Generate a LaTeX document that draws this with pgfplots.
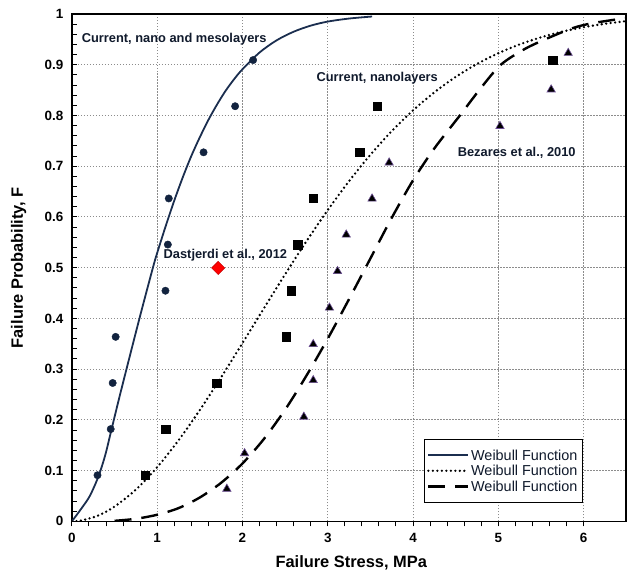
\documentclass[border=0pt]{standalone}
\usepackage{fontspec}
\setmainfont{Liberation Sans}
\usepackage{pgfplots}
\pgfplotsset{compat=1.18}
\definecolor{navy}{HTML}{1B2E4F}
\definecolor{navymark}{HTML}{12233F}
\definecolor{tripurple}{HTML}{6A4C93}
\definecolor{gridgray}{HTML}{8C8C8C}
\definecolor{annot}{HTML}{101A2C}
\begin{document}
\begin{tikzpicture}
\begin{axis}[
  width=555bp, height=508bp, scale only axis,
  xmin=0, xmax=6.5, ymin=0, ymax=1,
  xtick={0,1,2,3,4,5,6},
  ytick={0,0.1,0.2,0.3,0.4,0.5,0.6,0.7,0.8,0.9,1},
  xticklabel={\bfseries\pgfmathprintnumber[assume math mode=true]{\tick}},
  yticklabel={\bfseries\pgfmathprintnumber[assume math mode=true]{\tick}},
  minor x tick num=4, minor y tick num=4,
  xtick pos=bottom, ytick pos=left,
  tick align=inside,
  major tick length=5bp, minor tick length=5bp,
  xtick style={yshift=-5bp},
  tick style={black, line width=1bp},
  axis line style={line width=1.6bp, black},
  grid=major,
  grid style={gridgray, line width=1bp, dash pattern=on 1.4bp off 1.6bp},
  ticklabel style={font=\fontsize{13.5}{15}\selectfont\bfseries},
  yticklabel style={xshift=-5bp},
  xticklabel style={yshift=-8bp},
  xlabel={Failure Stress, MPa},
  ylabel={Failure Probability, F},
  label style={font=\fontsize{16.5}{18}\selectfont\bfseries},
  xlabel style={at={(axis description cs:0.504,-0.0906)}, anchor=base},
  ylabel style={at={(axis description cs:-0.0883,0.5)}, anchor=base},
  legend style={at={(0.921,0.037)}, anchor=south east, draw=black, line width=0.8bp,
    font=\fontsize{14.5}{16}\selectfont, text=annot, inner xsep=3bp, inner ysep=9bp,
    nodes={inner sep=1.5bp, text height=10.4bp, text depth=0bp}, row sep=2.3bp},
  legend cell align=left,
  legend image code/.code={\draw[#1] (0bp,0bp) -- (40bp,0bp);},
]
\addplot[navy, line width=1.8bp, smooth] coordinates {
(0,0) (0.11,0.025) (0.21,0.05) (0.31,0.088) (0.39,0.13) (0.46,0.178) (0.55,0.24)
(0.64,0.3) (0.8,0.405) (0.95,0.5) (1.0,0.529) (1.1,0.582) (1.2,0.632) (1.3,0.678)
(1.4,0.720) (1.5,0.757) (1.6,0.791) (1.7,0.821) (1.8,0.848) (1.9,0.871) (2.0,0.891)
(2.2,0.924) (2.4,0.948) (2.6,0.965) (2.8,0.977) (3.0,0.985) (3.25,0.991) (3.52,0.995)};
\addlegendentry{Weibull Function}
\addplot[black, line width=2.6bp, dash pattern=on 0bp off 4.5bp, line cap=round, smooth] coordinates {
(0,0) (0.1,0.0013) (0.3,0.0109) (0.5,0.029) (0.75,0.0625) (1.0,0.1067) (1.25,0.1596)
(1.5,0.2194) (1.75,0.284) (2.0,0.3512) (2.25,0.4195) (2.5,0.4868) (2.75,0.5519)
(3.0,0.6134) (3.25,0.6705) (3.5,0.7224) (3.75,0.769) (4.0,0.8099) (4.25,0.8455)
(4.5,0.8759) (4.75,0.9015) (5.0,0.9227) (5.25,0.94) (5.5,0.954) (5.75,0.9652)
(6.0,0.9739) (6.25,0.9807) (6.5,0.9859)};
\addlegendentry{Weibull Function}
\addplot[black, line width=2.4bp, dash pattern=on 17bp off 10bp, smooth] coordinates {
(0.5,0.001) (0.75,0.005) (1.0,0.013) (1.25,0.026) (1.5,0.047) (1.75,0.076) (2.0,0.114)
(2.25,0.162) (2.5,0.22) (2.75,0.287) (3.0,0.36) (3.25,0.438) (3.5,0.518) (3.75,0.598)
(4.0,0.672) (4.25,0.735) (4.55,0.80) (4.8,0.855) (5.03,0.9) (5.3,0.93) (5.55,0.95)
(5.87,0.972) (6.11,0.982) (6.5,0.992)};
\addlegendentry{Weibull Function}
\addplot[only marks, mark=*, mark size=3.7bp, navymark, forget plot] coordinates {
(0.30,0.0909) (0.455,0.1818) (0.478,0.2727) (0.513,0.3636) (1.097,0.4545)
(1.125,0.5455) (1.136,0.6364) (1.544,0.7273) (1.914,0.8182) (2.125,0.9091)};
\addplot[only marks, mark=square*, mark size=4.2bp, black, forget plot] coordinates {
(0.862,0.0909) (1.10,0.1818) (1.70,0.2727) (2.51,0.3636) (2.572,0.4545)
(2.65,0.5455) (2.828,0.6364) (3.375,0.7273) (3.58,0.8182) (5.64,0.9091)};
\addplot[only marks, mark=triangle*, mark size=4.8bp,
  mark options={fill=black, draw=tripurple, line width=0.6bp}, forget plot] coordinates {
(1.817,0.064) (2.025,0.134) (2.72,0.206) (2.83,0.278) (2.83,0.349) (3.02,0.421)
(3.115,0.493) (3.217,0.565) (3.52,0.636) (3.72,0.707) (5.02,0.779) (5.62,0.851) (5.82,0.923)};
\addplot[only marks, mark=square*, mark size=4.7bp,
  mark options={rotate=45, fill=red, draw=red!75!black, line width=0.5bp}, forget plot]
  coordinates {(1.715,0.4995)};
\node[font=\fontsize{12.9}{14}\selectfont\bfseries, text=annot] at (axis cs:1.2,0.951) {Current, nano and mesolayers};
\node[font=\fontsize{12.9}{14}\selectfont\bfseries, text=annot] at (axis cs:3.58,0.874) {Current, nanolayers};
\node[font=\fontsize{12.9}{14}\selectfont\bfseries, text=annot] at (axis cs:5.216,0.727) {Bezares et al., 2010};
\node[font=\fontsize{12.9}{14}\selectfont\bfseries, text=annot] at (axis cs:1.80,0.5246) {Dastjerdi et al., 2012};
\end{axis}
\path (-72bp,-51bp) (555bp,522bp);
\end{tikzpicture}
\end{document}
